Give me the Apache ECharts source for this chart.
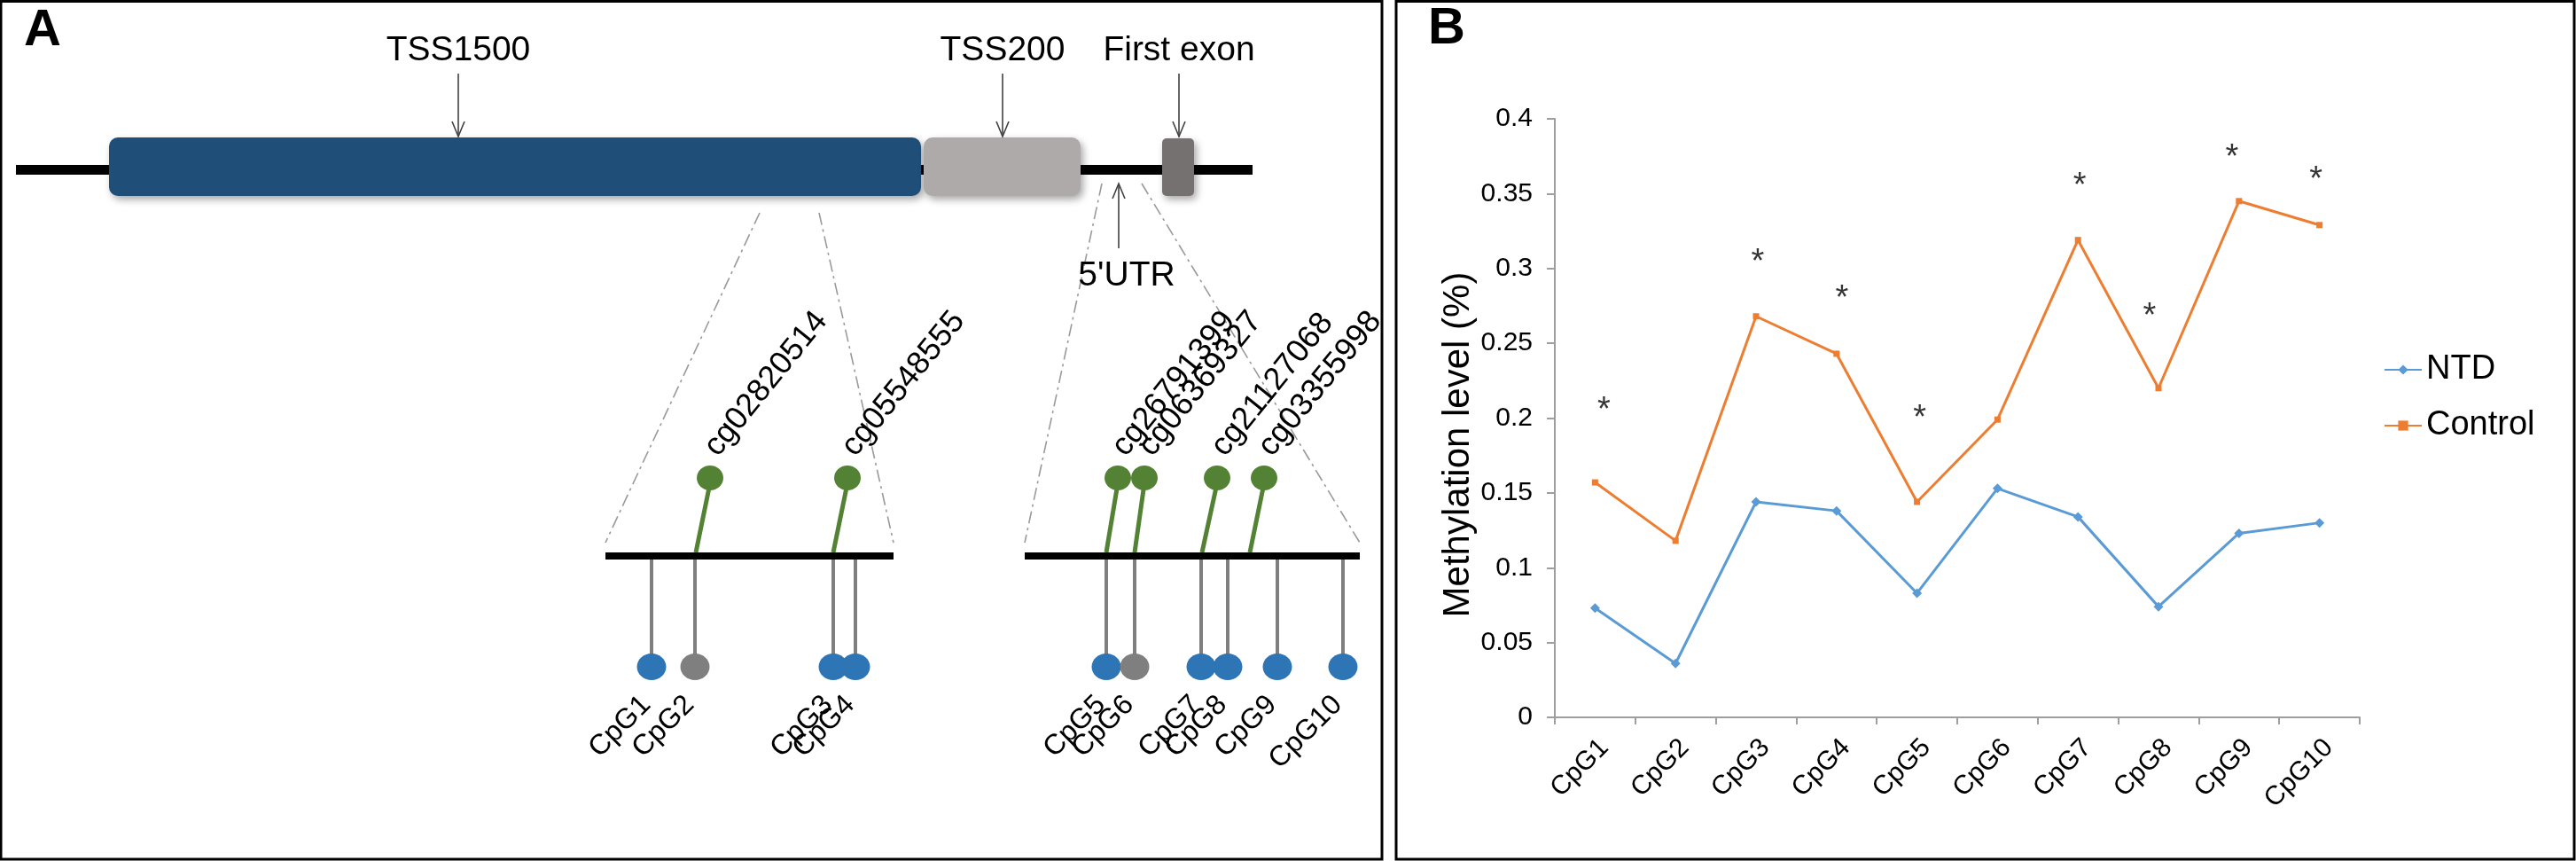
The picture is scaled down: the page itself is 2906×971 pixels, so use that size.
<!DOCTYPE html>
<html>
<head>
<meta charset="utf-8">
<script src="https://cdn.jsdelivr.net/npm/echarts@6/dist/echarts.min.js"></script>
<style>
  html, body { margin: 0; padding: 0; background: #fff; }
  #chart { width: 2906px; height: 971px; }
</style>
</head>
<body>
<div id="chart"></div>
<script>
// ---------------- Panel B data ----------------
const cpgNames = ['CpG1', 'CpG2', 'CpG3', 'CpG4', 'CpG5', 'CpG6', 'CpG7', 'CpG8', 'CpG9', 'CpG10'];
const ntd = [0.073, 0.036, 0.144, 0.138, 0.083, 0.153, 0.134, 0.074, 0.123, 0.130];
const control = [0.157, 0.118, 0.268, 0.243, 0.144, 0.199, 0.319, 0.220, 0.345, 0.329];
const sigMark = [0.210, null, 0.309, 0.285, 0.205, null, 0.360, 0.273, 0.379, 0.364];
const yMin = 0, yMax = 0.4, yStep = 0.05;

// ---------------- Panel A schematic data (track units) ----------------
const geneSpan = [18, 1413];
const regionNames = ['TSS1500', 'TSS200', 'First exon'];
const regionStart = [123, 1042, 1311];
const regionEnd = [1039, 1219, 1347];
const regionPointer = [517, 1131, 1330];
const utrName = "5'UTR";
const utrPointer = 1262;
const zoomSrcStart = [857, 1243];
const zoomSrcEnd = [924, 1288];
const zoomDstStart = [683, 1156];
const zoomDstEnd = [1008, 1534];
const cpgSitePos = [735, 784, 940, 965, 1248, 1280, 1355, 1385, 1441, 1515];
const cpgSiteKind = [0, 1, 0, 0, 0, 1, 0, 0, 0, 0];
const probeNames = ['cg02820514', 'cg05548555', 'cg26791399', 'cg06369327', 'cg21127068', 'cg03355998'];
const probeBase = [785, 940, 1248, 1280, 1356, 1410];
const probeTip = [801, 956, 1261, 1291, 1373, 1426];

// ---------------- layout / style ----------------
const FONT = '"Liberation Sans", Arial, Helvetica, sans-serif';
const L = {
  gene: 191.5, boxTop: 155, boxBot: 221, exonTop: 156, ptrTop: 83, label: 57,
  utrTop: 207, utrBot: 280, utrLabelY: 311, utrLabelDx: 9,
  guideTop: [240, 207], guideBot: 612, sub: 627,
  cpgHead: 752, probeHead: 539, probeFoot: 623
};
const sigDx = [10, 0, 2, 6, 3, 0, 2, -10, -8, -4];
const regionColors = ['#1f4e79', '#aeaaaa', '#767171'];
const siteColors = ['#2e75b6', '#7f7f7f'];
const probeColor = '#548235';
const arrowColor = '#404040';

function arrowHead(x, y, dir) {
  return {
    type: 'polyline',
    shape: { points: [[x - 7, y - 17 * dir], [x, y], [x + 7, y - 17 * dir]] },
    style: { stroke: arrowColor, lineWidth: 1.6, fill: null }
  };
}

const axA = { xAxisIndex: 0, yAxisIndex: 0, coordinateSystem: 'cartesian2d', clip: false, silent: true };

const chart = echarts.init(document.getElementById('chart'), null, { renderer: 'canvas' });

const option = {
  animation: false,
  backgroundColor: '#fff',
  textStyle: { fontFamily: FONT },
  grid: [
    { left: 0, top: 0, width: 1559, height: 971, outerBoundsMode: 'none', containLabel: false },
    { left: 1754, top: 134, width: 908, height: 675, outerBoundsMode: 'none', containLabel: false }
  ],
  xAxis: [
    { gridIndex: 0, type: 'value', min: 0, max: 1559, show: false },
    {
      gridIndex: 1, type: 'category', data: cpgNames, boundaryGap: true,
      axisLine: { show: true, lineStyle: { color: '#9e9e9e', width: 2 } },
      axisTick: { show: true, length: 8, lineStyle: { color: '#9e9e9e', width: 2 } },
      axisLabel: {
        rotate: 45, interval: 0, margin: 19, align: 'right', verticalAlign: 'top',
        fontSize: 30, color: '#000', fontFamily: FONT
      },
      splitLine: { show: false }
    }
  ],
  yAxis: [
    { gridIndex: 0, type: 'value', min: 0, max: 971, inverse: true, show: false },
    {
      gridIndex: 1, type: 'value', min: yMin, max: yMax, interval: yStep,
      name: 'Methylation level (%)', nameLocation: 'middle', nameGap: 88,
      nameTextStyle: { fontSize: 42, color: '#000', fontFamily: FONT, padding: [0, 60, 0, 0] },
      axisLine: { show: true, lineStyle: { color: '#9e9e9e', width: 2 } },
      axisTick: { show: true, length: 9, lineStyle: { color: '#9e9e9e', width: 2 } },
      axisLabel: { fontSize: 30, color: '#000', margin: 25, fontFamily: FONT },
      splitLine: { show: false }
    }
  ],
  legend: {
    data: ['NTD', 'Control'], orient: 'vertical', left: 2684, top: 393,
    itemWidth: 42, itemHeight: 14, itemGap: 25,
    textStyle: { fontSize: 38, color: '#000', fontFamily: FONT, lineHeight: 38 }
  },
  graphic: [
    { type: 'rect', shape: { x: 1, y: 1.5, width: 1558, height: 967.5 }, style: { fill: null, stroke: '#000', lineWidth: 3 } },
    { type: 'rect', shape: { x: 1575, y: 1.5, width: 1329, height: 967.5 }, style: { fill: null, stroke: '#000', lineWidth: 3 } },
    { type: 'text', x: 48, y: 35, style: { text: 'A', fontSize: 58, fontWeight: 'bold', fontFamily: FONT, fill: '#000', align: 'center', verticalAlign: 'middle' } },
    { type: 'text', x: 1632, y: 33, style: { text: 'B', fontSize: 58, fontWeight: 'bold', fontFamily: FONT, fill: '#000', align: 'center', verticalAlign: 'middle' } }
  ],
  series: [
    Object.assign({
      type: 'custom', name: 'guides', z: 1,
      data: zoomSrcStart.map((s, i) => [s, zoomSrcEnd[i], zoomDstStart[i], zoomDstEnd[i], i]),
      renderItem: function (params, api) {
        const i = api.value(4);
        const a = api.coord([api.value(0), L.guideTop[i]]);
        const b = api.coord([api.value(2), L.guideBot]);
        const c = api.coord([api.value(1), L.guideTop[i]]);
        const d = api.coord([api.value(3), L.guideBot]);
        const st = { stroke: '#9a9a9a', lineWidth: 1.6, lineDash: [14, 5, 3, 5] };
        return { type: 'group', children: [
          { type: 'line', shape: { x1: a[0], y1: a[1], x2: b[0], y2: b[1] }, style: st },
          { type: 'line', shape: { x1: c[0], y1: c[1], x2: d[0], y2: d[1] }, style: st }
        ] };
      }
    }, axA),
    Object.assign({
      type: 'custom', name: 'backbone', z: 2,
      data: [[geneSpan[0], geneSpan[1]]],
      renderItem: function (params, api) {
        const a = api.coord([api.value(0), L.gene]);
        const b = api.coord([api.value(1), L.gene]);
        return { type: 'line', shape: { x1: a[0], y1: a[1], x2: b[0], y2: b[1] }, style: { stroke: '#000', lineWidth: 11 } };
      }
    }, axA),
    Object.assign({
      type: 'custom', name: 'regions', z: 3,
      data: regionNames.map((n, i) => [regionStart[i], regionEnd[i], regionPointer[i], i]),
      renderItem: function (params, api) {
        const i = api.value(3);
        const top = i === 2 ? L.exonTop : L.boxTop;
        const p0 = api.coord([api.value(0), top]);
        const p1 = api.coord([api.value(1), L.boxBot]);
        const px = api.value(2);
        const a0 = api.coord([px, L.ptrTop]);
        const a1 = api.coord([px, L.boxTop - 1]);
        const lb = api.coord([px, L.label]);
        return { type: 'group', children: [
          { type: 'rect', shape: { x: p0[0], y: p0[1], width: p1[0] - p0[0], height: p1[1] - p0[1], r: i === 2 ? 5 : 10 },
            style: { fill: regionColors[i], shadowBlur: 8, shadowOffsetX: 3, shadowOffsetY: 4, shadowColor: 'rgba(0,0,0,0.35)' } },
          { type: 'line', shape: { x1: a0[0], y1: a0[1], x2: a1[0], y2: a1[1] }, style: { stroke: arrowColor, lineWidth: 1.6 } },
          arrowHead(a1[0], a1[1], 1),
          { type: 'text', x: lb[0], y: lb[1], style: { text: regionNames[i], fontSize: 39, fontFamily: FONT, fill: '#000', align: 'center', verticalAlign: 'middle' } }
        ] };
      }
    }, axA),
    Object.assign({
      type: 'custom', name: 'utr', z: 3,
      data: [[utrPointer, 0]],
      renderItem: function (params, api) {
        const x = api.value(0);
        const a0 = api.coord([x, L.utrBot]);
        const a1 = api.coord([x, L.utrTop]);
        const lb = api.coord([x + L.utrLabelDx, L.utrLabelY]);
        return { type: 'group', children: [
          { type: 'line', shape: { x1: a0[0], y1: a0[1], x2: a1[0], y2: a1[1] }, style: { stroke: arrowColor, lineWidth: 1.6 } },
          arrowHead(a1[0], a1[1], -1),
          { type: 'text', x: lb[0], y: lb[1], style: { text: utrName, fontSize: 39, fontFamily: FONT, fill: '#000', align: 'center', verticalAlign: 'middle' } }
        ] };
      }
    }, axA),
    Object.assign({
      type: 'custom', name: 'cpgSites', z: 4,
      data: cpgSitePos.map((p, i) => [p, cpgSiteKind[i], i]),
      renderItem: function (params, api) {
        const x = api.value(0), kind = api.value(1), i = api.value(2);
        const top = api.coord([x, L.sub + 3]);
        const head = api.coord([x, L.cpgHead]);
        return { type: 'group', children: [
          { type: 'line', shape: { x1: top[0], y1: top[1], x2: head[0], y2: head[1] - 10 }, style: { stroke: '#7f7f7f', lineWidth: 4 } },
          { type: 'ellipse', shape: { cx: head[0], cy: head[1], rx: 16.5, ry: 15 }, style: { fill: siteColors[kind] } },
          { type: 'text', x: head[0] - 6, y: head[1] + 38, rotation: Math.PI / 4,
            style: { text: cpgNames[i], fontSize: 32, fontFamily: FONT, fill: '#000', align: 'right', verticalAlign: 'middle' } }
        ] };
      }
    }, axA),
    Object.assign({
      type: 'custom', name: 'probes', z: 4,
      data: probeBase.map((b, i) => [b, probeTip[i], i]),
      renderItem: function (params, api) {
        const i = api.value(2);
        const base = api.coord([api.value(0), L.probeFoot]);
        const tip = api.coord([api.value(1), L.probeHead]);
        return { type: 'group', children: [
          { type: 'line', shape: { x1: base[0], y1: base[1], x2: tip[0], y2: tip[1] + 6 }, style: { stroke: probeColor, lineWidth: 5 } },
          { type: 'ellipse', shape: { cx: tip[0], cy: tip[1], rx: 15, ry: 14 }, style: { fill: probeColor } },
          { type: 'text', x: tip[0] + 1, y: tip[1] - 29, rotation: 51 * Math.PI / 180,
            style: { text: probeNames[i], fontSize: 36, fontFamily: FONT, fill: '#000', align: 'left', verticalAlign: 'middle' } }
        ] };
      }
    }, axA),
    Object.assign({
      type: 'custom', name: 'subLines', z: 5,
      data: zoomDstStart.map((s, i) => [s, zoomDstEnd[i]]),
      renderItem: function (params, api) {
        const a = api.coord([api.value(0), L.sub]);
        const b = api.coord([api.value(1), L.sub]);
        return { type: 'line', shape: { x1: a[0], y1: a[1], x2: b[0], y2: b[1] }, style: { stroke: '#000', lineWidth: 8 } };
      }
    }, axA),
    {
      type: 'line', name: 'NTD', xAxisIndex: 1, yAxisIndex: 1, data: ntd,
      symbol: 'diamond', symbolSize: 11, showSymbol: true,
      lineStyle: { color: '#5b9bd5', width: 3 }, itemStyle: { color: '#5b9bd5' },
      emphasis: { disabled: true }, z: 3
    },
    {
      type: 'line', name: 'Control', xAxisIndex: 1, yAxisIndex: 1, data: control,
      symbol: 'rect', symbolSize: 7, showSymbol: true,
      lineStyle: { color: '#ed7d31', width: 3 }, itemStyle: { color: '#ed7d31' },
      emphasis: { disabled: true }, z: 3
    },
    {
      type: 'scatter', name: 'sig', xAxisIndex: 1, yAxisIndex: 1,
      data: sigMark.map((v, i) => v == null ? '-' : { value: v, label: { offset: [sigDx[i], 9] } }),
      symbol: 'circle', symbolSize: 1, itemStyle: { color: 'rgba(0,0,0,0)' }, silent: true,
      label: { show: true, position: 'inside', formatter: '*', fontSize: 38, color: '#000', fontFamily: FONT },
      emphasis: { disabled: true }
    }
  ]
};
chart.setOption(option);
</script>
</body>
</html>
